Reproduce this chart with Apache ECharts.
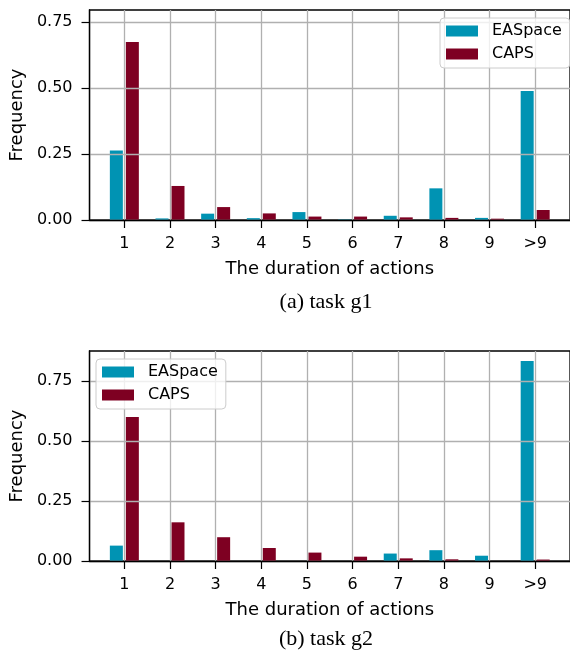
<!DOCTYPE html>
<html>
<head>
<meta charset="utf-8">
<script src="https://cdn.jsdelivr.net/npm/echarts@6/dist/echarts.min.js"></script>
<style>
html,body{margin:0;padding:0;background:#fff;}
#chart{width:570px;height:650px;}
</style>
</head>
<body>
<div id="chart"></div>
<script>
// ---- data ----
var categories = ['1', '2', '3', '4', '5', '6', '7', '8', '9', '>9'];
var seriesNames = ['EASpace', 'CAPS'];
var g1EASpace = [0.263, 0.006, 0.024, 0.007, 0.030, 0.002, 0.016, 0.120, 0.008, 0.489];
var g1CAPS    = [0.675, 0.129, 0.049, 0.025, 0.013, 0.013, 0.010, 0.008, 0.005, 0.038];
var g2EASpace = [0.064, 0, 0, 0, 0, 0, 0.031, 0.045, 0.022, 0.832];
var g2CAPS    = [0.599, 0.161, 0.099, 0.054, 0.035, 0.018, 0.011, 0.007, 0, 0.006];
var yTicks = [0, 0.25, 0.5, 0.75];
var captions = ['(a) task g1', '(b) task g2'];
var xAxisTitle = 'The duration of actions';
var yAxisTitle = 'Frequency';

var TEAL = '#0093b3', CRIMSON = '#7e0022';
var GRID_COLOR = '#b0b0b0';
var FONT = 'DejaVu Sans';

function pairs(arr) { return arr.map(function (v, i) { return [i, v]; }); }
var catIdx = categories.map(function (c, i) { return i; });

function makeX(gridIndex) {
  return {
    type: 'value', gridIndex: gridIndex, min: -0.763, max: 9.763, z: 3,
    name: xAxisTitle, nameLocation: 'middle', nameGap: 40,
    nameTextStyle: { fontFamily: FONT, fontSize: 18, color: '#000' },
    axisLine: { show: true, onZero: false, lineStyle: { color: '#000', width: 1.3 } },
    axisTick: { show: true, length: 8, customValues: catIdx, lineStyle: { color: '#000', width: 1.2 } },
    axisLabel: { customValues: catIdx, margin: 16, fontFamily: FONT, fontSize: 16, color: '#000',
      formatter: function (v) { return categories[Math.round(v)]; } },
    splitLine: { show: true, lineStyle: { color: GRID_COLOR, width: 1.3 } }
  };
}
function makeY(gridIndex, max) {
  return {
    type: 'value', gridIndex: gridIndex, min: 0, max: max, z: 3,
    name: yAxisTitle, nameLocation: 'middle', nameGap: 60, nameRotate: 90,
    nameTextStyle: { fontFamily: FONT, fontSize: 18, color: '#000' },
    axisLine: { show: true, onZero: false, lineStyle: { color: '#000', width: 1.3 } },
    axisTick: { show: true, length: 8, customValues: yTicks, lineStyle: { color: '#000', width: 1.2 } },
    axisLabel: { customValues: yTicks, margin: 17, fontFamily: FONT, fontSize: 16, color: '#000',
      formatter: function (v) { return v.toFixed(2); } },
    splitLine: { show: true, lineStyle: { color: GRID_COLOR, width: 1.3 } }
  };
}
function makeBar(name, data, idx, color) {
  return {
    type: 'bar', name: name, xAxisIndex: idx, yAxisIndex: idx,
    data: pairs(data), barWidth: 13, barGap: '23%', z: 2,
    itemStyle: { color: color }, emphasis: { disabled: true }
  };
}
function makeLegend(left, top) {
  return {
    left: left, top: top, orient: 'vertical', icon: 'rect',
    itemWidth: 32, itemHeight: 11, itemGap: 5,
    padding: [4, 8, 5, 6],
    backgroundColor: 'rgba(255,255,255,0.8)',
    borderColor: '#cccccc', borderWidth: 1, borderRadius: 4,
    textStyle: { fontFamily: FONT, fontSize: 16, color: '#000', lineHeight: 18, padding: [0, 0, 0, 9] },
    data: seriesNames, selectedMode: false
  };
}

var chart = echarts.init(document.getElementById('chart'), null, { renderer: 'canvas' });
var option = {
  animation: false,
  backgroundColor: '#fff',
  color: [TEAL, CRIMSON],
  grid: [
    { left: 88, top: 10, width: 487, height: 210, show: true, borderColor: '#000', borderWidth: 1.3, backgroundColor: 'transparent' },
    { left: 88, top: 351, width: 487, height: 210, show: true, borderColor: '#000', borderWidth: 1.3, backgroundColor: 'transparent' }
  ],
  xAxis: [makeX(0), makeX(1)],
  yAxis: [makeY(0, 0.796), makeY(1, 0.874)],
  legend: [makeLegend(440, 18), makeLegend(96, 359)],
  series: [
    makeBar(seriesNames[0], g1EASpace, 0, TEAL),
    makeBar(seriesNames[1], g1CAPS, 0, CRIMSON),
    makeBar(seriesNames[0], g2EASpace, 1, TEAL),
    makeBar(seriesNames[1], g2CAPS, 1, CRIMSON)
  ],
  graphic: [
    { type: 'text', x: 326, y: 302, style: { text: captions[0], fontFamily: 'Liberation Serif', fontSize: 22, fill: '#000', align: 'center', verticalAlign: 'middle' } },
    { type: 'text', x: 326, y: 639, style: { text: captions[1], fontFamily: 'Liberation Serif', fontSize: 22, fill: '#000', align: 'center', verticalAlign: 'middle' } }
  ]
};
chart.setOption(option);
</script>
</body>
</html>
